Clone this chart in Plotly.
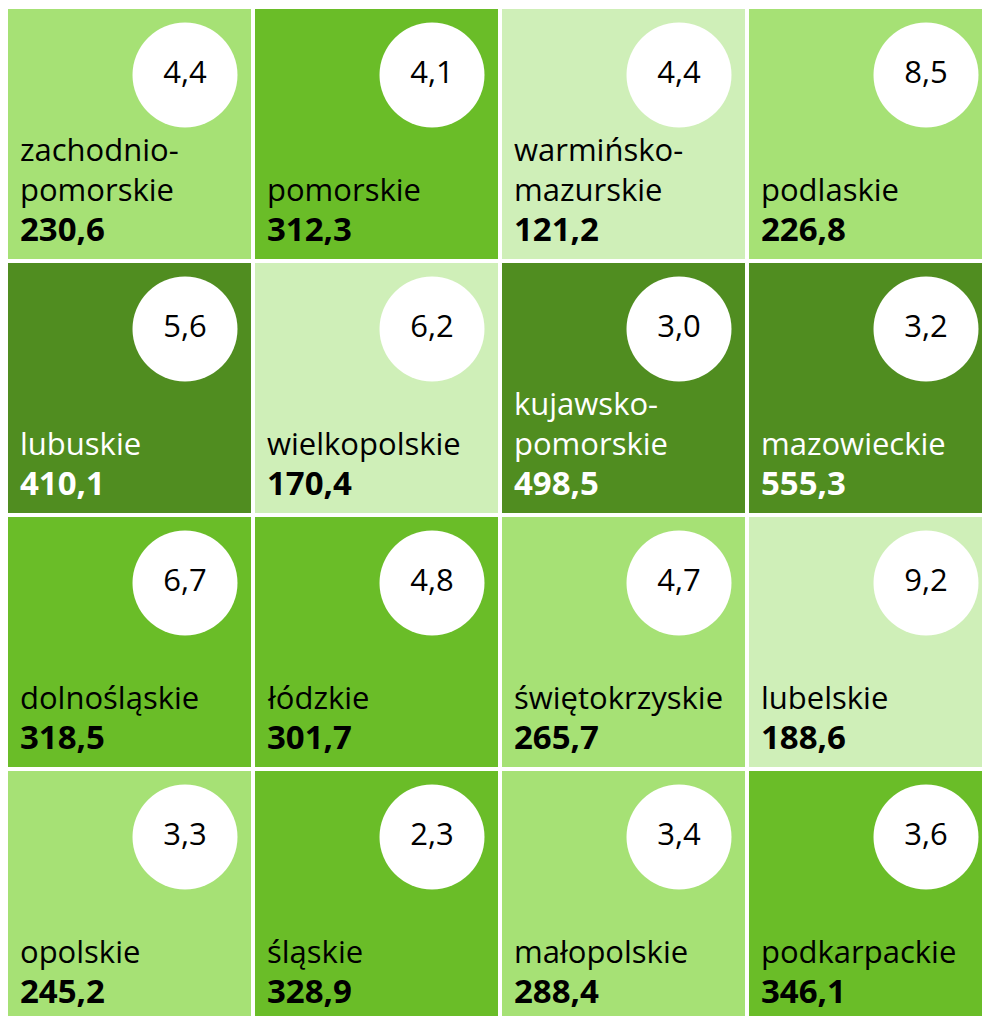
import numpy as np
import plotly.graph_objects as go

# tiles in grid order (row by row, 4 columns)
regions = [
    "zachodnio-<br>pomorskie", "pomorskie", "warmińsko-<br>mazurskie", "podlaskie",
    "lubuskie", "wielkopolskie", "kujawsko-<br>pomorskie", "mazowieckie",
    "dolnośląskie", "łódzkie", "świętokrzyskie", "lubelskie",
    "opolskie", "śląskie", "małopolskie", "podkarpackie",
]
values = [
    230.6, 312.3, 121.2, 226.8,
    410.1, 170.4, 498.5, 555.3,
    318.5, 301.7, 265.7, 188.6,
    245.2, 328.9, 288.4, 346.1,
]
circle_values = [
    4.4, 4.1, 4.4, 8.5,
    5.6, 6.2, 3.0, 3.2,
    6.7, 4.8, 4.7, 9.2,
    3.3, 2.3, 3.4, 3.6,
]
class_breaks = [200, 300, 400]
class_colors = ["#cfefb8", "#a6e175", "#6abd28", "#508d20"]

N_COLS = 4
PITCH_X, PITCH_Y = 247, 254      # px per tile incl. gap
X0, Y0 = 129.5, 134              # px of first tile centre
W, H = 982, 1016
FONT = "Open Sans, Noto Sans, sans-serif"


def fmt(v):
    return f"{v:.1f}".replace(".", ",")


cols = [i % N_COLS for i in range(len(values))]
rows = [i // N_COLS for i in range(len(values))]
classes = np.digitize(values, class_breaks)

z = np.full((4, 4), np.nan)
for r, c, k in zip(rows, cols, classes):
    z[r, c] = k

colorscale = []
for k, col in enumerate(class_colors):
    colorscale += [[k / 4, col], [(k + 1) / 4, col]]

fig = go.Figure()

fig.add_trace(
    go.Heatmap(
        z=z,
        x=list(range(4)),
        y=list(range(4)),
        zmin=-0.5,
        zmax=3.5,
        colorscale=colorscale,
        showscale=False,
        xgap=4,
        ygap=4,
        hoverinfo="skip",
    )
)

# white circles with the small number
fig.add_trace(
    go.Scatter(
        x=[c + 55.5 / PITCH_X for c in cols],
        y=[r - 59 / PITCH_Y for r in rows],
        mode="markers+text",
        marker=dict(size=105, color="white", line_width=0),
        text=[fmt(v) for v in circle_values],
        textposition="middle center",
        textfont=dict(family=FONT, size=31, color="black"),
        hoverinfo="skip",
        showlegend=False,
    )
)

for name, val, r, c, k in zip(regions, values, rows, cols, classes):
    txt_color = "white" if k == 3 else "black"
    fig.add_annotation(
        x=c - 112 / PITCH_X,
        y=r + 78 / PITCH_Y,
        text=name,
        showarrow=False,
        xanchor="left",
        yanchor="bottom",
        align="left",
        font=dict(family=FONT, size=31, color=txt_color),
    )
    fig.add_annotation(
        x=c - 112 / PITCH_X,
        y=r + 119 / PITCH_Y,
        text=f"<b>{fmt(val)}</b>",
        showarrow=False,
        xanchor="left",
        yanchor="bottom",
        align="left",
        font=dict(family=FONT, size=33, color=txt_color),
    )

fig.update_layout(
    width=W,
    height=H,
    margin=dict(l=0, r=0, t=0, b=0),
    paper_bgcolor="white",
    plot_bgcolor="white",
    showlegend=False,
    xaxis=dict(
        range=[-X0 / PITCH_X, (W - X0) / PITCH_X],
        visible=False,
        fixedrange=True,
    ),
    yaxis=dict(
        range=[(H - Y0) / PITCH_Y, -Y0 / PITCH_Y],
        visible=False,
        fixedrange=True,
    ),
)

# full-bleed page: no body margin, no scrollbars, no modebar
fig.write_html(
    "out.html",
    config={"displayModeBar": False},
    post_script="document.body.style.margin='0';document.body.style.overflow='hidden';",
)
